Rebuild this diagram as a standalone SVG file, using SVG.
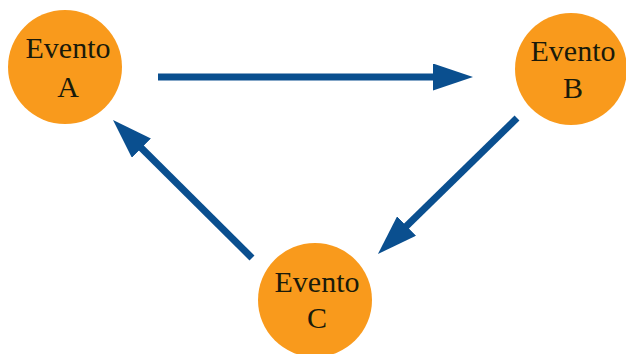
<svg xmlns="http://www.w3.org/2000/svg" width="626" height="354" viewBox="0 0 626 354">
  <style>
    .event { fill: #f99a1c; }
    .label { font-family: "Liberation Serif", "DejaVu Serif", Times, serif; font-size: 30px; fill: #1a1a0a; text-anchor: middle; }
    .flow { stroke: #0a4f8f; stroke-width: 7; fill: none; marker-end: url(#head); }
  </style>
  <defs>
    <marker id="head" markerUnits="userSpaceOnUse" markerWidth="40" markerHeight="27" refX="10" refY="13.5" orient="auto">
      <path d="M0,0 L40,13.5 L0,27 z" fill="#0a4f8f"/>
    </marker>
  </defs>
  <rect width="626" height="354" fill="#ffffff"/>

  <g id="connectors">
    <line class="flow" x1="158" y1="77" x2="443" y2="77"/>
    <line class="flow" x1="517" y1="118" x2="399.4" y2="233"/>
    <line class="flow" x1="252" y1="258" x2="134.3" y2="141.1"/>
  </g>

  <g id="evento-a">
    <circle class="event" cx="65" cy="67" r="57"/>
    <text class="label" x="68" y="58" font-family="Liberation Serif, serif">Evento</text>
    <text class="label" x="68" y="97" font-family="Liberation Serif, serif">A</text>
  </g>

  <g id="evento-b">
    <circle class="event" cx="571" cy="69" r="56"/>
    <text class="label" x="573" y="61" font-family="Liberation Serif, serif">Evento</text>
    <text class="label" x="573" y="98" font-family="Liberation Serif, serif">B</text>
  </g>

  <g id="evento-c">
    <circle class="event" cx="315" cy="300" r="57"/>
    <text class="label" x="317" y="292" font-family="Liberation Serif, serif">Evento</text>
    <text class="label" x="317" y="328" font-family="Liberation Serif, serif">C</text>
  </g>
</svg>
